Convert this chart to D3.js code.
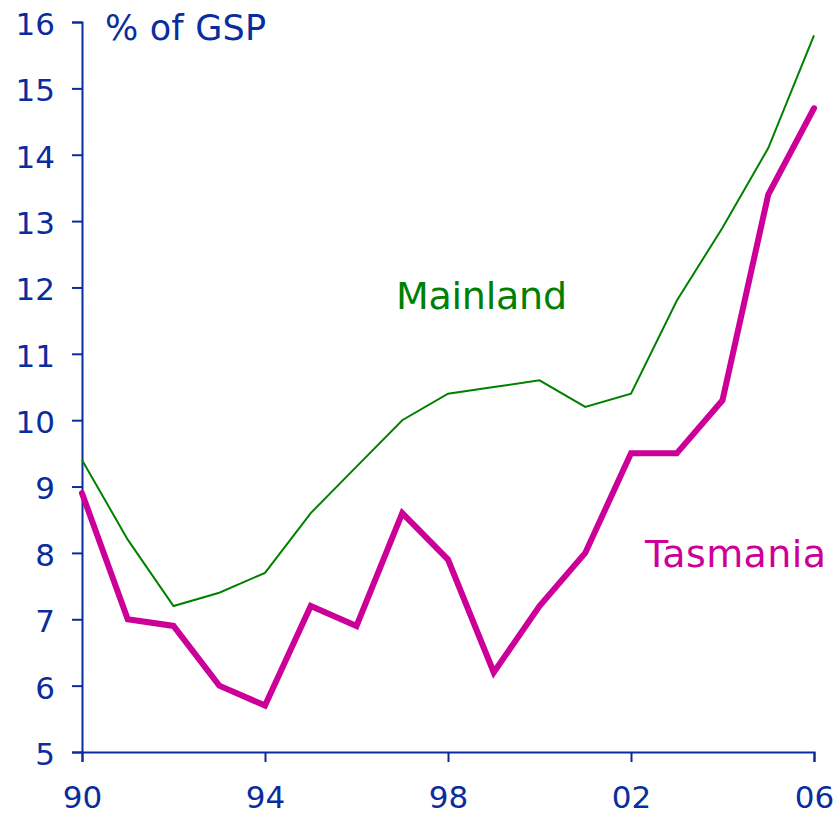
<!DOCTYPE html>
<html><head><meta charset="utf-8">
<script src="https://cdn.jsdelivr.net/npm/d3@7"></script>
<style>body{margin:0;background:#fff;} svg{display:block;}</style>
</head><body>
<svg id="c" width="836" height="814"></svg>
<script>
const years = [1990,1991,1992,1993,1994,1995,1996,1997,1998,1999,2000,2001,2002,2003,2004,2005,2006];
const mainland = [9.4,8.2,7.2,7.4,7.7,8.6,9.3,10.0,10.4,10.5,10.6,10.2,10.4,11.8,12.9,14.1,15.8];
const tasmania = [8.9,7.0,6.9,6.0,5.7,7.2,6.9,8.6,7.9,6.2,7.2,8.0,9.5,9.5,10.3,13.4,14.7];
const xTicks = [1990,1994,1998,2002,2006];
const xTickLabels = ["90","94","98","02","06"];
const yTicks = [5,6,7,8,9,10,11,12,13,14,15,16];

const axisColor = "#0a2d9e";
const font = "'DejaVu Sans', Verdana, sans-serif";
const m = {left:82, right:22, top:22, bottom:62};
const W = 836, H = 814;
const svg = d3.select("#c");
const x = d3.scaleLinear().domain([1990,2006]).range([m.left, W-m.right]);
const y = d3.scaleLinear().domain([5,16]).range([H-m.bottom, m.top]);

const gx = svg.append("g").attr("transform",`translate(0,${H-m.bottom})`)
  .call(d3.axisBottom(x).tickValues(xTicks).tickFormat((d,i)=>xTickLabels[i]).tickSizeOuter(0).tickSize(10).tickPadding(24));
const gy = svg.append("g").attr("transform",`translate(${m.left},0)`)
  .call(d3.axisLeft(y).tickValues(yTicks).tickFormat(d3.format("d")).tickSizeOuter(0).tickSize(10).tickPadding(17));
[gx,gy].forEach(g=>{
  g.select(".domain").attr("stroke",axisColor).attr("stroke-width",2);
  g.selectAll(".tick line").attr("stroke",axisColor).attr("stroke-width",2);
  g.selectAll(".tick text").attr("fill",axisColor).attr("font-family",font).attr("font-size",31);
});
gy.selectAll(".tick text").attr("dy","0.4em");
gx.selectAll(".tick text").attr("dy","0.7em");

const line = d3.line().x((d,i)=>x(years[i])).y(d=>y(d));
svg.append("path").datum(mainland).attr("d",line).attr("fill","none")
  .attr("stroke","#008000").attr("stroke-width",2);
svg.append("path").datum(tasmania).attr("d",line).attr("fill","none")
  .attr("stroke","#cc0099").attr("stroke-width",6).attr("stroke-linecap","round");

svg.append("text").attr("x",105).attr("y",40).attr("fill",axisColor)
  .attr("font-family",font).attr("font-size",35).attr("textLength",161).text("% of GSP");
svg.append("text").attr("x",396).attr("y",309).attr("fill","#008000")
  .attr("font-family",font).attr("font-size",38).attr("textLength",171).text("Mainland");
svg.append("text").attr("x",645).attr("y",567).attr("fill","#cc0099")
  .attr("font-family",font).attr("font-size",38).attr("textLength",181).text("Tasmania");
</script>
</body></html>
